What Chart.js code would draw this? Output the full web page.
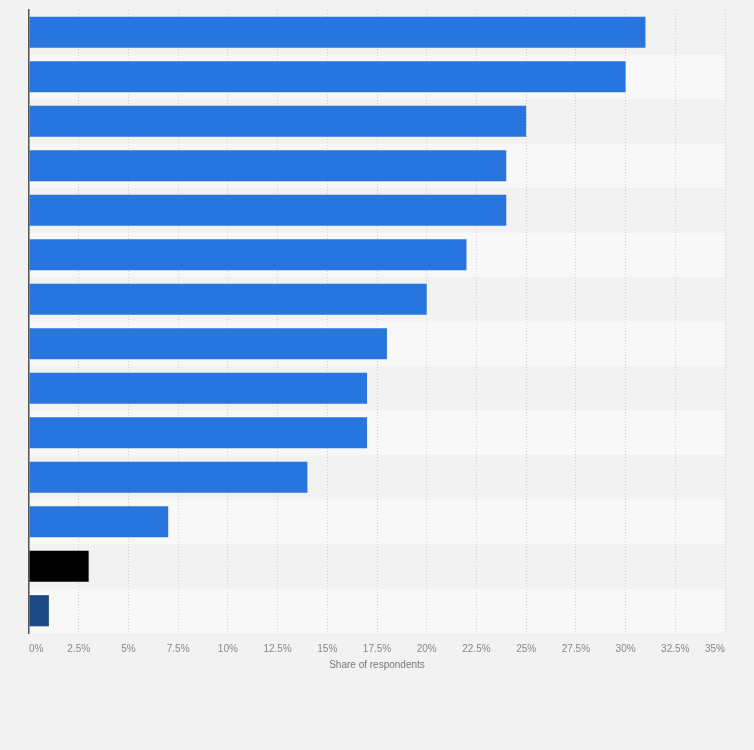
<!DOCTYPE html>
<html>
<head>
<meta charset="utf-8">
<script src="https://cdn.jsdelivr.net/npm/chart.js@4"></script>
<style>
  html, body { margin: 0; padding: 0; background: #f2f2f2; }
  #wrap { width: 754px; height: 750px; }
</style>
</head>
<body>
<div id="wrap"><canvas id="myChart"></canvas></div>
<script>
// category names are not shown in the picture
let categories = [
  'Answer 1', 'Answer 2', 'Answer 3', 'Answer 4', 'Answer 5', 'Answer 6', 'Answer 7',
  'Answer 8', 'Answer 9', 'Answer 10', 'Answer 11', 'Answer 12', 'Answer 13', 'Answer 14'
];
let shares = [31, 30, 25, 24, 24, 22, 20, 18, 17, 17, 14, 7, 3, 1];
let tickMax = 35;
let tickStep = 2.5;

/* colours per bar */
let barColors = shares.map(function(v, i){
  if (i === shares.length - 2) return '#000000';
  if (i === shares.length - 1) return '#1d4a85';
  return '#2876dd';
});

/* alternating row bands, drawn under the grid */
let rowBands = {
  id: 'rowBands',
  beforeDraw: function(chart){
    let ctx = chart.ctx;
    let area = chart.chartArea;
    let y = chart.scales.y;
    let step = (area.bottom - area.top) / categories.length;
    ctx.save();
    for (let i = 0; i < categories.length; i++) {
      let c = y.getPixelForValue(i);
      ctx.fillStyle = (i % 2 === 0) ? '#f2f2f2' : '#f8f8f8';
      ctx.fillRect(area.left, c - step / 2, area.right - area.left, step);
    }
    ctx.restore();
  }
};

let data = {
  labels: categories,
  datasets: [{
    data: shares,
    backgroundColor: barColors,
    borderWidth: 0,
    categoryPercentage: 1,
    barPercentage: 0.7
  }]
};

let config = {
  type: 'bar',
  data: data,
  plugins: [rowBands],
  options: {
    indexAxis: 'y',
    responsive: true,
    maintainAspectRatio: false,
    animation: false,
    layout: { padding: { left: 21, right: 29, top: 10, bottom: 79 } },
    plugins: { legend: { display: false }, tooltip: { enabled: false } },
    scales: {
      x: {
        min: 0,
        max: tickMax,
        ticks: {
          stepSize: tickStep,
          align: 'inner',
          padding: 10,
          color: '#888',
          font: { family: 'Liberation Sans, Arial', size: 10 },
          callback: function(v){ return v + '%'; }
        },
        grid: {
          color: '#d0d0d0',
          drawTicks: false,
          lineWidth: 1
        },
        border: { display: false, dash: [1, 2] },
        title: {
          display: true,
          text: 'Share of respondents',
          color: '#777',
          font: { family: 'Liberation Sans, Arial', size: 10 },
          padding: { top: -6, bottom: 0 }
        }
      },
      y: {
        ticks: { display: false },
        grid: { display: false },
        border: { display: true, color: '#555', width: 1.5 }
      }
    }
  }
};

let myChart = new Chart(document.getElementById('myChart'), config);
</script>
</body>
</html>
